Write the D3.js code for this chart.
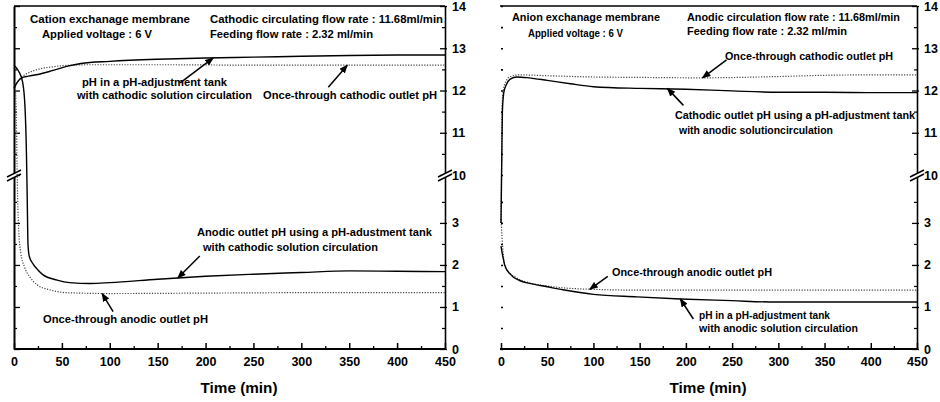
<!DOCTYPE html>
<html><head><meta charset="utf-8">
<script src="https://cdn.jsdelivr.net/npm/d3@7"></script>
<style>
html,body{margin:0;padding:0;background:#fff;}
svg text{font-family:"Liberation Sans",Arial,Helvetica,sans-serif;font-weight:bold;fill:#000;}
</style></head>
<body>
<svg id="chart" width="940" height="402"></svg>
<script>
// ---------- DATA ----------
const xTicks = [0, 50, 100, 150, 200, 250, 300, 350, 400, 450];
const xMinorTicks = [25, 75, 125, 175, 225, 275, 325, 375, 425];
const yTicks = [0, 1, 2, 3, 10, 11, 12, 13, 14];
const yMinorTicks = [0.5, 1.5, 2.5, 3.5, 10.5, 11.5, 12.5, 13.5];

// Left panel: cation exchange membrane
const leftCathTankT = [0, 3, 8, 15, 25, 40, 55, 70, 100, 150, 200, 250, 300, 350, 400, 450];
const leftCathTankV = [12.05, 12.18, 12.3, 12.34, 12.38, 12.47, 12.57, 12.64, 12.69, 12.74, 12.77, 12.79, 12.81, 12.83, 12.84, 12.84];
const leftCathOnceT = [0, 5, 12, 22, 40, 60, 80, 150, 250, 350, 450];
const leftCathOnceV = [12.05, 12.25, 12.38, 12.48, 12.56, 12.6, 12.61, 12.61, 12.6, 12.6, 12.6];
const leftAnodTankT = [0, 5, 9, 11.5, 13, 13.8, 14.6, 16, 20, 25, 30, 45, 58, 80, 100, 150, 200, 250, 300, 350, 400, 450];
const leftAnodTankV = [12.6, 12.45, 12.2, 11.6, 10.5, 3.6, 2.5, 2.2, 2.02, 1.88, 1.77, 1.64, 1.58, 1.56, 1.58, 1.66, 1.73, 1.78, 1.82, 1.86, 1.85, 1.84];
const leftAnodOnceT = [0, 1.5, 2.5, 3.2, 3.8, 5, 7, 11, 17, 24, 37, 55, 100, 200, 300, 450];
const leftAnodOnceV = [12.2, 12.0, 11.3, 10.2, 3.6, 2.8, 2.3, 1.95, 1.7, 1.53, 1.41, 1.34, 1.32, 1.33, 1.34, 1.34];

// Right panel: anion exchange membrane
const rightCathTankT = [0, 0.8, 1.5, 3, 6, 10, 17, 30, 50, 75, 100, 150, 200, 250, 300, 350, 400, 450];
const rightCathTankV = [3.0, 10.3, 11.5, 11.95, 12.15, 12.27, 12.32, 12.3, 12.24, 12.16, 12.09, 12.05, 12.03, 11.99, 11.96, 11.96, 11.95, 11.95];
const rightCathOnceT = [0, 0.6, 1.2, 2.5, 5, 10, 20, 50, 100, 150, 215, 300, 350, 400, 450];
const rightCathOnceV = [3.0, 10.2, 11.6, 12.0, 12.2, 12.33, 12.37, 12.35, 12.32, 12.31, 12.3, 12.33, 12.36, 12.37, 12.37];
const rightAnodTankT = [0, 2, 4, 10, 20, 31, 50, 67, 100, 147, 194, 250, 291, 350, 400, 450];
const rightAnodTankV = [2.45, 2.2, 2.0, 1.78, 1.63, 1.56, 1.48, 1.41, 1.3, 1.24, 1.19, 1.15, 1.12, 1.12, 1.12, 1.12];
const rightAnodOnceT = [0, 1, 2.5, 4, 10, 17, 30, 50, 70, 100, 150, 250, 350, 450];
const rightAnodOnceV = [3.1, 2.7, 2.25, 1.97, 1.8, 1.69, 1.58, 1.5, 1.45, 1.42, 1.4, 1.4, 1.4, 1.4];

// ---------- LAYOUT ----------
const svg = d3.select("#chart");
const yTop = 6, yBreakHi = 175, yBreakLo = 183, yBottom = 349;

const defs = svg.append("defs");
defs.append("marker").attr("id", "arrow").attr("viewBox", "0 0 10 8")
  .attr("refX", 9).attr("refY", 4).attr("markerWidth", 9).attr("markerHeight", 7)
  .attr("markerUnits", "userSpaceOnUse").attr("orient", "auto")
  .append("path").attr("d", "M0,0 L10,4 L0,8 Z").attr("fill", "#000");

function zip(t, v) { return t.map((d, i) => [d, v[i]]); }

function breakMark(g, cx, cy) {
  g.append("polygon")
    .attr("points", `${cx-7},${cy+2} ${cx+7},${cy-5} ${cx+7},${cy-1} ${cx-7},${cy+6}`)
    .attr("fill", "#fff");
  g.append("line").attr("x1", cx-7).attr("y1", cy+2).attr("x2", cx+7).attr("y2", cy-5)
    .attr("stroke", "#000").attr("stroke-width", 1.4);
  g.append("line").attr("x1", cx-7).attr("y1", cy+6).attr("x2", cx+7).attr("y2", cy-1)
    .attr("stroke", "#000").attr("stroke-width", 1.4);
}

const tickFont = sel => sel.style("font-size", "12.5px")
  .style("font-family", "Liberation Sans, Arial, sans-serif").style("font-weight", "bold");

function panel(cfg) {
  const g = svg.append("g");
  const x = d3.scaleLinear().domain([0, 450]).range([cfg.x0, cfg.x1]);
  const y = d3.scaleLinear().domain([0, 3.95, 10, 14]).range([yBottom, yBreakLo, yBreakHi, yTop]);

  // top frame
  g.append("line").attr("x1", cfg.frameX0).attr("x2", cfg.x1).attr("y1", yTop).attr("y2", yTop)
    .attr("stroke", "#000").attr("stroke-width", 1.3);

  // x axis (major + minor, ticks pointing up)
  const xa = g.append("g").attr("transform", `translate(0,${yBottom})`)
    .call(d3.axisBottom(x).tickValues(xTicks).tickSize(-6).tickSizeOuter(0).tickPadding(8).tickFormat(d3.format("d")));
  xa.select(".domain").attr("stroke-width", 2).attr("d", `M${cfg.frameX0},0H${cfg.x1}`);
  xa.selectAll(".tick line").attr("stroke-width", 1.5);
  tickFont(xa.selectAll("text"));
  const xm = g.append("g").attr("transform", `translate(0,${yBottom})`)
    .call(d3.axisBottom(x).tickValues(xMinorTicks).tickSize(-3).tickSizeOuter(0).tickFormat(""));
  xm.select(".domain").remove();
  xm.selectAll(".tick line").attr("stroke-width", 1.3);

  // right y axis
  const ya = g.append("g").attr("transform", `translate(${cfg.x1},0)`)
    .call(d3.axisRight(y).tickValues(yTicks).tickSize(2).tickSizeOuter(0).tickPadding(5).tickFormat(d3.format("d")));
  ya.select(".domain").attr("stroke-width", 1.6);
  ya.selectAll(".tick line").attr("x1", -5).attr("stroke-width", 1.3);
  tickFont(ya.selectAll("text"));
  const ym = g.append("g").attr("transform", `translate(${cfg.x1},0)`)
    .call(d3.axisRight(y).tickValues(yMinorTicks).tickSize(0).tickSizeOuter(0).tickFormat(""));
  ym.select(".domain").remove();
  ym.selectAll(".tick line").attr("x1", -3).attr("x2", 0).attr("stroke-width", 1.2);

  // left y axis (its labels lie outside the picture in the reference)
  if (cfg.leftAxis) {
    const yl = g.append("g").attr("transform", `translate(${cfg.x0},0)`)
      .call(d3.axisLeft(y).tickValues(yTicks).tickSize(-6).tickSizeOuter(0).tickFormat(""));
    yl.select(".domain").attr("stroke-width", 2);
    yl.selectAll(".tick line").attr("stroke-width", 1.3);
    const ylm = g.append("g").attr("transform", `translate(${cfg.x0},0)`)
      .call(d3.axisLeft(y).tickValues(yMinorTicks).tickSize(-3).tickSizeOuter(0).tickFormat(""));
    ylm.select(".domain").remove();
    ylm.selectAll(".tick line").attr("stroke-width", 1.2);
    breakMark(g, cfg.x0, 175);
  } else {
    // only faint tick marks remain on the left edge
    const yl = g.append("g").attr("transform", `translate(${cfg.x0},0)`)
      .call(d3.axisLeft(y).tickValues(yTicks.concat(yMinorTicks)).tickSize(-2).tickSizeOuter(0).tickFormat(""));
    yl.select(".domain").remove();
    yl.selectAll(".tick line").attr("stroke-width", 1.6);
  }
  breakMark(g, cfg.x1, 175);

  // lines
  const line = d3.line().x(d => x(d[0])).y(d => y(d[1])).curve(d3.curveMonotoneX);
  cfg.series.forEach(s => {
    g.append("path").datum(zip(s.t, s.v)).attr("d", line).attr("fill", "none")
      .attr("stroke", s.dotted ? "#444" : "#000")
      .attr("stroke-width", s.dotted ? 1.2 : 1.4)
      .attr("stroke-dasharray", s.dotted ? "1.2,1.5" : null);
  });

  // arrows (head at data point, tail offset)
  cfg.arrows.forEach(a => {
    const hx = x(a.head[0]), hy = y(a.head[1]);
    g.append("line").attr("x1", hx + a.off[0]).attr("y1", hy + a.off[1])
      .attr("x2", hx).attr("y2", hy).attr("stroke", "#000").attr("stroke-width", 1.5)
      .attr("marker-end", "url(#arrow)");
  });

  // annotation texts
  cfg.labels.forEach(l => {
    g.append("text").attr("x", l.x).attr("y", l.y).text(l.s)
      .style("font-size", "10.5px")
      .attr("textLength", l.w).attr("lengthAdjust", "spacingAndGlyphs");
  });
  g.append("text").attr("x", cfg.titleX).attr("y", 393).attr("text-anchor", "middle")
    .style("font-size", "14px").attr("textLength", 77).attr("lengthAdjust", "spacingAndGlyphs")
    .text("Time (min)");
}

panel({
  x0: 14, x1: 445, frameX0: 14, leftAxis: true, titleX: 239,
  series: [
    { t: leftCathOnceT, v: leftCathOnceV, dotted: true },
    { t: leftAnodOnceT, v: leftAnodOnceV, dotted: true },
    { t: leftCathTankT, v: leftCathTankV },
    { t: leftAnodTankT, v: leftAnodTankV }
  ],
  arrows: [
    { head: [208, 12.77], off: [-33, 25] },
    { head: [348, 12.6], off: [-19, 22] },
    { head: [171, 1.69], off: [22, -22] },
    { head: [92, 1.32], off: [11, 18] }
  ],
  labels: [
    { s: "Cation exchanage membrane", x: 30, y: 23, w: 160 },
    { s: "Applied voltage : 6 V", x: 42, y: 38, w: 110 },
    { s: "Cathodic circulating flow rate : 11.68ml/min", x: 210, y: 23, w: 233 },
    { s: "Feeding flow rate : 2.32 ml/min", x: 210, y: 38, w: 163 },
    { s: "pH in a pH-adjustment tank", x: 82, y: 86, w: 145 },
    { s: "with cathodic solution circulation", x: 77, y: 99, w: 175 },
    { s: "Once-through cathodic outlet pH", x: 263, y: 99, w: 174 },
    { s: "Anodic outlet pH using a pH-adustment tank", x: 197, y: 236, w: 235 },
    { s: "with cathodic solution circulation", x: 203, y: 251, w: 175 },
    { s: "Once-through anodic outlet pH", x: 43, y: 323, w: 165 }
  ]
});

panel({
  x0: 501, x1: 917, frameX0: 500, leftAxis: false, titleX: 708,
  series: [
    { t: rightCathOnceT, v: rightCathOnceV, dotted: true },
    { t: rightAnodOnceT, v: rightAnodOnceV, dotted: true },
    { t: rightCathTankT, v: rightCathTankV },
    { t: rightAnodTankT, v: rightAnodTankV }
  ],
  arrows: [
    { head: [218, 12.3], off: [24, -18] },
    { head: [180, 12.05], off: [16, 17] },
    { head: [96, 1.42], off: [18, -13] },
    { head: [194, 1.19], off: [13, 20] }
  ],
  labels: [
    { s: "Anion exchanage membrane", x: 512, y: 21, w: 148 },
    { s: "Applied voltage : 6 V", x: 528, y: 37, w: 95 },
    { s: "Anodic circulation flow rate : 11.68ml/min", x: 687, y: 21, w: 213 },
    { s: "Feeding flow rate : 2.32 ml/min", x: 687, y: 35, w: 160 },
    { s: "Once-through cathodic outlet pH", x: 725, y: 60, w: 168 },
    { s: "Cathodic outlet pH using a pH-adjustment tank", x: 675, y: 119, w: 240 },
    { s: "with anodic solutioncirculation", x: 679, y: 134, w: 154 },
    { s: "Once-through anodic outlet pH", x: 612, y: 276, w: 160 },
    { s: "pH in a pH-adjustment tank", x: 699, y: 319, w: 131 },
    { s: "with anodic solution circulation", x: 699, y: 332, w: 159 }
  ]
});
</script>
</body></html>
